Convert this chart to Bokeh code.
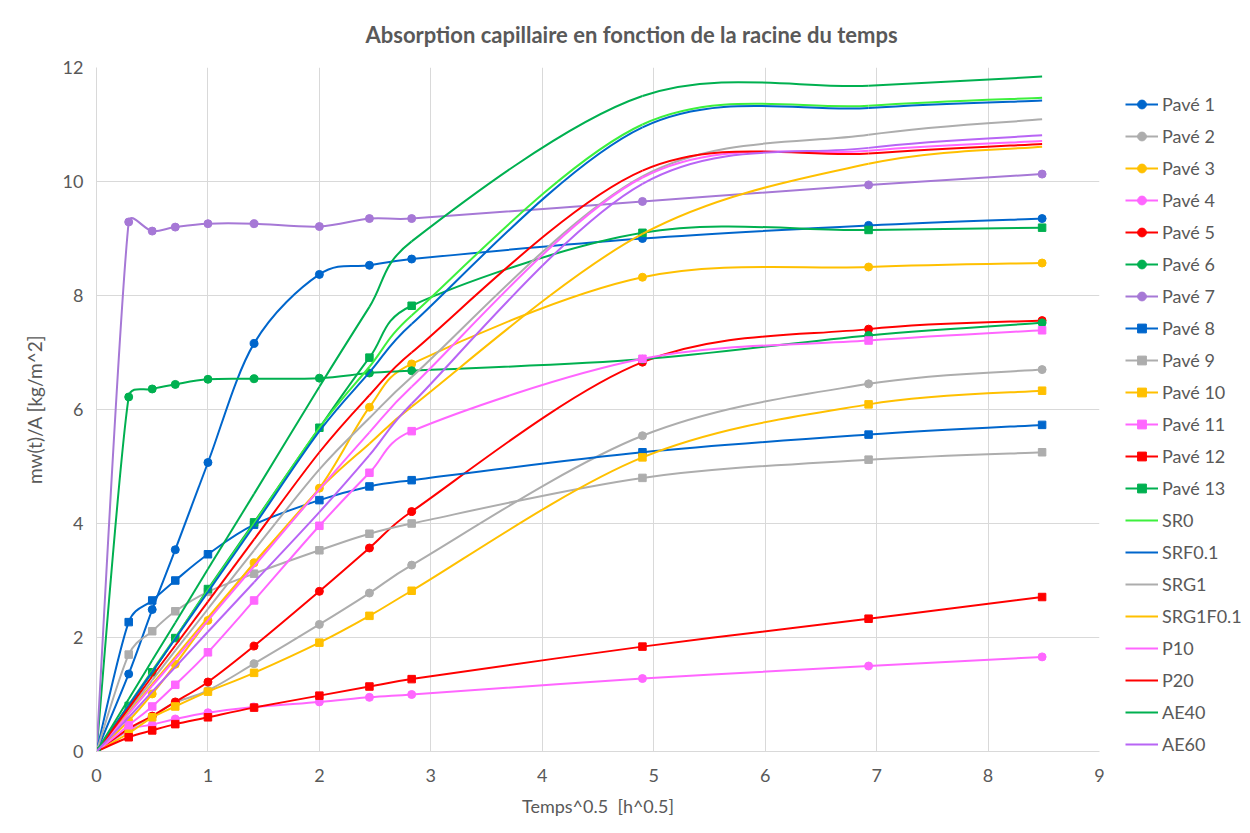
import math
from bokeh.plotting import figure
from bokeh.models import Legend, LegendItem, FixedTicker, Range1d
from bokeh.embed import file_html
from bokeh.resources import INLINE

# ---------------- data ----------------
X = [0, 0.289, 0.5, 0.707, 1, 1.414, 2, 2.449, 2.828, 4.899, 6.928, 8.485]

pave1 = [0, 1.36, 2.49, 3.54, 5.07, 7.16, 8.37, 8.53, 8.64, 9.00, 9.23, 9.35]
pave2 = [0, 0.38, 0.62, 0.86, 1.07, 1.54, 2.23, 2.78, 3.27, 5.54, 6.45, 6.70]
pave3 = [0, 0.54, 1.01, 1.53, 2.30, 3.31, 4.62, 6.04, 6.80, 8.32, 8.50, 8.57]
pave4 = [0, 0.38, 0.47, 0.57, 0.68, 0.78, 0.87, 0.95, 1.00, 1.28, 1.50, 1.66]
pave5 = [0, 0.40, 0.62, 0.87, 1.22, 1.85, 2.81, 3.57, 4.21, 6.83, 7.41, 7.56]
pave6 = [0, 6.22, 6.36, 6.44, 6.53, 6.54, 6.55, 6.64, 6.68, 6.88, 7.30, 7.52]
pave7 = [0, 9.29, 9.13, 9.20, 9.26, 9.26, 9.21, 9.35, 9.35, 9.65, 9.94, 10.13]
pave8 = [0, 2.27, 2.65, 3.00, 3.46, 3.98, 4.41, 4.65, 4.76, 5.25, 5.56, 5.73]
pave9 = [0, 1.70, 2.11, 2.46, 2.80, 3.12, 3.53, 3.82, 4.00, 4.80, 5.12, 5.25]
pave10 = [0, 0.32, 0.60, 0.79, 1.05, 1.38, 1.91, 2.38, 2.82, 5.16, 6.09, 6.33]
pave11 = [0, 0.46, 0.79, 1.17, 1.74, 2.65, 3.96, 4.89, 5.62, 6.89, 7.21, 7.39]
pave12 = [0, 0.25, 0.37, 0.48, 0.60, 0.77, 0.98, 1.14, 1.27, 1.84, 2.33, 2.71]
pave13 = [0, 0.80, 1.39, 1.99, 2.85, 4.02, 5.68, 6.91, 7.82, 9.10, 9.15, 9.19]

sr0 = [0, 0.82, 1.42, 2.00, 2.83, 4.00, 5.68, 6.75, 7.65, 11.00, 11.33, 11.47]
srf01 = [0, 0.81, 1.40, 1.98, 2.80, 3.96, 5.62, 6.65, 7.50, 10.95, 11.29, 11.42]
srg1 = [0, 0.72, 1.25, 1.77, 2.50, 3.53, 4.95, 5.85, 6.57, 10.09, 10.82, 11.09]
srg1f01 = [0, 0.68, 1.18, 1.66, 2.35, 3.30, 4.60, 5.40, 6.05, 9.08, 10.31, 10.61]
p10 = [0, 0.66, 1.15, 1.62, 2.30, 3.25, 4.60, 5.60, 6.40, 10.07, 10.54, 10.71]
p20 = [0, 0.76, 1.32, 1.86, 2.63, 3.72, 5.25, 6.25, 7.00, 10.19, 10.49, 10.66]
ae40 = [0, 0.92, 1.60, 2.26, 3.20, 4.52, 6.40, 7.80, 8.95, 11.50, 11.68, 11.84]
ae60 = [0, 0.60, 1.05, 1.48, 2.10, 2.97, 4.20, 5.20, 6.10, 9.96, 10.59, 10.81]

labels = ["Pavé 1", "Pavé 2", "Pavé 3", "Pavé 4", "Pavé 5", "Pavé 6", "Pavé 7",
          "Pavé 8", "Pavé 9", "Pavé 10", "Pavé 11", "Pavé 12", "Pavé 13",
          "SR0", "SRF0.1", "SRG1", "SRG1F0.1", "P10", "P20", "AE40", "AE60"]
values = [pave1, pave2, pave3, pave4, pave5, pave6, pave7, pave8, pave9, pave10,
          pave11, pave12, pave13, sr0, srf01, srg1, srg1f01, p10, p20, ae40, ae60]

x_ticks = [0, 1, 2, 3, 4, 5, 6, 7, 8, 9]
y_ticks = [0, 2, 4, 6, 8, 10, 12]

# ---------------- styles ----------------
BLUE, GRAY, YEL, PINK, RED, GREEN = "#0066CC", "#ADADAD", "#FFC000", "#FF66FF", "#FF0000", "#00B050"
colors = [BLUE, GRAY, YEL, PINK, RED, GREEN, "#A678D6",
          BLUE, GRAY, YEL, PINK, RED, GREEN,
          "#3DF03D", BLUE, GRAY, YEL, PINK, RED, GREEN, "#B865F5"]
markers = ["circle"] * 7 + ["square"] * 6 + [None] * 8

TXT = "#595959"
FONT = "Lato"

ML, MT, MB = 96, 67, 74
FW, FH = 1003, 684
XMAX, YMAX = 9, 12
KX, KY = FW / XMAX, FH / YMAX  # pixels per data unit


def smooth(xs, ys):
    """Excel-like smoothed line: cubic Bezier control points per segment."""
    P = [(x * KX, y * KY) for x, y in zip(xs, ys)]
    n = len(P)
    out = {k: [] for k in ("x0", "y0", "x1", "y1", "cx0", "cy0", "cx1", "cy1")}
    d = lambda a, b: math.hypot(a[0] - b[0], a[1] - b[1])
    for i in range(n - 1):
        p0 = P[i - 1] if i > 0 else P[i]
        p1, p2 = P[i], P[i + 1]
        p3 = P[i + 2] if i + 2 < n else P[i + 1]
        d02, d12, d13 = d(p0, p2), d(p1, p2), d(p1, p3)
        f1 = 1 / 6 if (d02 / 6 < d12 / 2 or d02 == 0) else d12 / (2 * d02)
        f2 = 1 / 6 if (d13 / 6 < d12 / 2 or d13 == 0) else d12 / (2 * d13)
        c1 = (p1[0] + f1 * (p2[0] - p0[0]), p1[1] + f1 * (p2[1] - p0[1]))
        c2 = (p2[0] - f2 * (p3[0] - p1[0]), p2[1] - f2 * (p3[1] - p1[1]))
        out["x0"].append(p1[0] / KX); out["y0"].append(p1[1] / KY)
        out["x1"].append(p2[0] / KX); out["y1"].append(p2[1] / KY)
        out["cx0"].append(c1[0] / KX); out["cy0"].append(c1[1] / KY)
        out["cx1"].append(c2[0] / KX); out["cy1"].append(c2[1] / KY)
    return out


p = figure(frame_width=FW, frame_height=FH, output_backend="svg", toolbar_location=None,
           x_range=Range1d(0, XMAX), y_range=Range1d(0, YMAX),
           min_border_left=ML, min_border_right=0, min_border_top=MT, min_border_bottom=MB,
           title="Absorption capillaire en fonction de la racine du temps")
p.outline_line_color = None
p.background_fill_color = "white"
p.border_fill_color = "white"

p.title.align = "left"
p.title.vertical_align = "top"
p.title.offset = 269
p.title.standoff = 36
p.title.text_font = FONT
p.title.text_font_size = "22px"
p.title.text_font_style = "bold"
p.title.text_color = TXT

for ax, ticks in ((p.xaxis, x_ticks), (p.yaxis, y_ticks)):
    ax.ticker = FixedTicker(ticks=ticks)
    ax.axis_line_color = "#D9D9D9"
    ax.major_tick_line_color = None
    ax.minor_tick_line_color = None
    ax.major_label_text_font = FONT
    ax.major_label_text_font_size = "18px"
    ax.major_label_text_color = TXT
    ax.axis_label_text_font = FONT
    ax.axis_label_text_font_style = "normal"
    ax.axis_label_text_color = TXT

p.xaxis.axis_label = "Temps^0.5\u00a0 [h^0.5]"
p.yaxis.axis_label = "mw(t)/A [kg/m^2]"
p.xaxis.axis_label_text_font_size = "18px"
p.yaxis.axis_label_text_font_size = "19px"
p.xaxis.major_label_standoff = 11
p.xaxis.axis_label_standoff = 10
p.yaxis.major_label_standoff = 7
p.yaxis.axis_label_standoff = 14

p.xgrid.ticker = FixedTicker(ticks=x_ticks)
p.ygrid.ticker = FixedTicker(ticks=y_ticks)
for g in (p.xgrid, p.ygrid):
    g.grid_line_color = "#D9D9D9"
    g.grid_line_width = 1

items = []
for lab, ys, col, mk in zip(labels, values, colors, markers):
    seg = smooth(X, ys)
    r_line = p.bezier(x0="x0", y0="y0", x1="x1", y1="y1", cx0="cx0", cy0="cy0",
                      cx1="cx1", cy1="cy1", source=seg, line_color=col, line_width=2)
    rends = [r_line]
    if mk is not None:
        r_m = p.scatter(X, ys, marker=mk, size=8 if mk == "circle" else 7.5,
                        fill_color=col, line_color=col)
        rends.append(r_m)
    items.append(LegendItem(label=lab, renderers=rends))

legend = Legend(items=items, location=(26, -4), orientation="vertical",
                glyph_width=33, glyph_height=22, label_height=22, spacing=10,
                padding=0, margin=0, label_standoff=4,
                label_text_font=FONT, label_text_font_size="18px", label_text_color=TXT,
                border_line_color=None, background_fill_alpha=0)
p.add_layout(legend, "right")

open("out.html", "w").write(file_html(p, INLINE))
